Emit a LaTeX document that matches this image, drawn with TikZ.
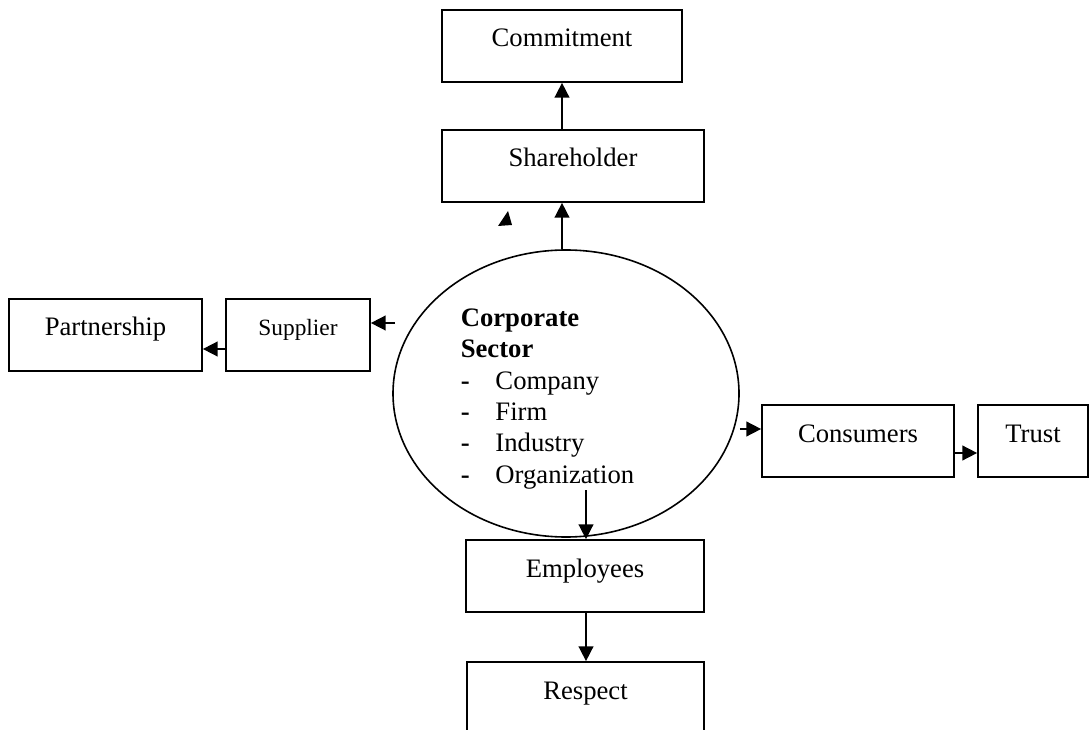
\documentclass[tikz,border=0pt]{standalone}
\usepackage{fontspec}
\setmainfont{Liberation Serif}
\usetikzlibrary{
        arrows.meta,
        positioning,
        shapes.geometric
    }
\tikzset{>={Triangle[length=11pt,width=11pt]}}
\tikzset{box/.style={draw,line width=1.3pt,inner sep=0pt,text height=27.75pt,text depth=26.25pt,font=\fontsize{20}{24}\selectfont}}

\begin{document}
\begin{tikzpicture}[x=0.75pt,y=-0.75pt,line width=1.2pt]
    \useasboundingbox (0,0) rectangle (1091,730);
    \node[box,minimum width=180pt]   (commit)    at (562,46)    {Commitment};
    \node[box,minimum width=196.5pt] (share)     at (573,166)   {Shareholder};
    \node[box,minimum width=144.75pt](partner)   at (105.5,335) {Partnership};
    \node[box,minimum width=108pt,font=\fontsize{17.5}{21}\selectfont] (supplier) at (298,335) {Supplier};
    \node[box,minimum width=144pt]   (consumers) at (858,441)   {Consumers};
    \node[box,minimum width=82.5pt]  (trust)     at (1033,441)  {Trust};
    \node[box,minimum width=178.5pt] (employees) at (585,576)   {Employees};
    \node[box,minimum width=177.75pt](respect)   at (585.5,698) {Respect};
    \node[draw,ellipse,inner sep=0pt,minimum width=259.5pt,minimum height=215.25pt] (sector) at (566,393.5) {};
    \node[anchor=base west,align=left,inner sep=0pt,font=\fontsize{20}{23.5}\selectfont] (sectortext) at (460,483)
        {\textbf{Corporate}\\\textbf{Sector}\\
         \makebox[26pt][l]{\textbf{-}}Company\\
         \makebox[26pt][l]{\textbf{-}}Firm\\
         \makebox[26pt][l]{\textbf{-}}Industry\\
         \makebox[26pt][l]{\textbf{-}}Organization};
    \coordinate (supin)  at (395,323);
    \coordinate (empin)  at (586,490);
    \coordinate (consin) at ([yshift=9pt]consumers.west);
    \draw[->] (sector.north -| commit.south) -- (share.south -| commit.south);
    \draw[->] (share.north -| commit.south) -- (commit.south);
    \draw[->] (supin) -- (supin -| supplier.east);
    \draw[->] ([yshift=-10.5pt]supplier.west) -- ([yshift=-10.5pt]partner.east);
    \draw[->] (consin -| sector.east) -- (consin);
    \draw[->] ([yshift=-9pt]consumers.east) -- ([yshift=-9pt]trust.west);
    \draw[->] (empin) -- (empin |- employees.north);
    \draw[->] (employees.south -| empin) -- (respect.north -| empin);
    \fill (508,211) -- (498,226) -- (512,225) -- cycle;
\end{tikzpicture}
\end{document}
